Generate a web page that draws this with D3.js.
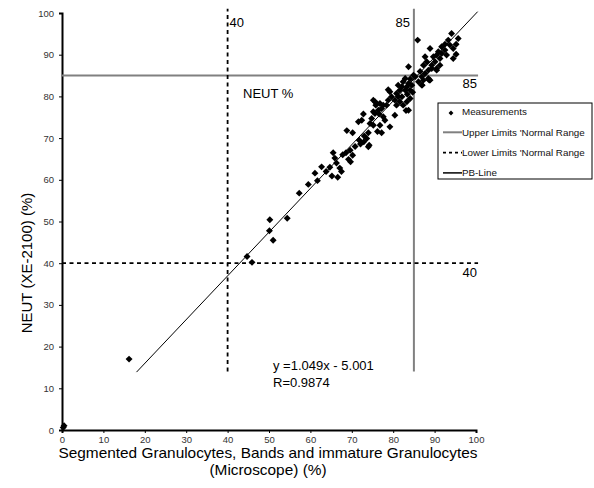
<!DOCTYPE html>
<head>
<meta charset="utf-8">
<style>
body { margin: 0; background: #fff; }
svg { display: block; }
text { font-family: "Liberation Sans", Arial, sans-serif; fill: #000; }
.tick text { font-size: 9.5px; fill: #333; }
.tick line { stroke: #000; }
.domain { stroke: #000; stroke-width: 2px; }
</style>
</head>
<body>
<script src="https://cdnjs.cloudflare.com/ajax/libs/d3/7.8.5/d3.min.js"></script>
<script>
// values
var xTicks = [0, 10, 20, 30, 40, 50, 60, 70, 80, 90, 100];
var yTicks = [0, 10, 20, 30, 40, 50, 60, 70, 80, 90, 100];

// Microscope (x) vs XE-2100 (y)
var microscope = [0.3, 0.5, 16.2, 44.7, 45.9, 50.1, 50.2, 51.0, 54.4, 57.3, 59.5, 61.1, 61.7, 62.7, 64.7,
  65.2, 66.6, 65.5, 65.9, 66.3, 67.1, 67.5, 68.6, 69.2, 69.7, 70.2, 69.6, 68.8, 70.2, 71.8,
  72.1, 72.9, 73.6, 74.2, 74.0, 71.6, 72.4, 72.8, 74.4, 75.2, 74.8, 75.6, 76.2, 77.2, 76.8,
  75.2, 76.0, 77.2, 77.6, 78.4, 78.8, 80.4, 80.8, 79.2, 78.0, 79.2, 83.1, 74.0, 76.6, 75.8,
  78.8, 81.2, 85.9, 94.1, 95.7, 93.3, 93.7, 92.5, 91.7, 95.2, 94.5, 88.9, 90.9, 91.7, 90.5,
  91.3, 92.9, 92.5, 95.2, 94.5, 89.7, 87.7, 88.1, 90.1, 89.3, 90.5, 87.3, 91.3, 88.5, 83.7,
  87.7, 86.9, 86.5, 88.5, 87.3, 86.1, 87.0, 88.9, 85.3, 84.9, 84.1, 82.9, 82.4, 83.7, 84.5,
  83.3, 82.1, 81.6, 82.9, 84.1, 84.7, 83.4, 81.2, 80.8, 82.1, 84.1, 83.3, 82.4, 79.6, 80.4,
  81.6, 77.6, 76.8, 75.6, 83.7, 76.4, 75.2, 89.3, 90.5, 88.7, 86.9, 73.0, 70.8, 67.8, 63.8];
var xe2100 = [0.6, 1.0, 17.0, 41.6, 40.2, 47.8, 50.4, 45.5, 50.8, 56.8, 58.9, 61.6, 59.8, 63.1, 63.0,
  60.9, 60.6, 66.5, 65.2, 64.0, 62.8, 62.0, 66.5, 64.9, 64.3, 65.9, 67.1, 71.8, 71.3, 69.5,
  68.6, 69.1, 69.9, 68.3, 71.3, 73.9, 74.3, 75.8, 73.5, 73.1, 74.7, 75.9, 71.6, 71.3, 73.1,
  79.1, 78.3, 77.1, 75.1, 77.9, 79.1, 75.5, 77.9, 81.1, 74.3, 72.7, 76.6, 67.9, 75.8, 77.9,
  81.6, 79.9, 93.5, 95.1, 93.9, 93.5, 92.3, 92.5, 91.9, 92.5, 91.5, 91.5, 90.7, 90.3, 89.9,
  89.1, 89.9, 91.1, 90.1, 89.1, 89.5, 89.5, 88.3, 88.3, 87.5, 86.7, 87.5, 87.5, 86.3, 87.1,
  85.5, 84.7, 86.0, 84.3, 83.9, 83.5, 82.7, 83.9, 84.7, 85.1, 84.2, 84.3, 83.5, 83.1, 82.7,
  82.3, 82.3, 81.5, 81.5, 81.5, 81.0, 80.5, 82.7, 80.7, 79.9, 79.5, 78.7, 77.9, 79.9, 79.1,
  78.7, 77.9, 78.3, 78.7, 76.7, 76.7, 76.3, 86.7, 86.3, 83.9, 82.7, 70.5, 68.0, 66.0, 62.0];

var fitSlope = 1.049, fitIntercept = -5.001, fitR = 0.9874;
var fitRange = [18, 100.4];
var upperLimit = 85, lowerLimit = 40;
var limitSpan = [14, 101];   // vertical extent of the limit lines
var limitReach = 100.5;      // horizontal extent

var legendLabels = ["Measurements", "Upper Limits 'Normal Range", "Lower Limits 'Normal Range", "PB-Line"];

var width = 594, height = 488;
var svg = d3.select("body").append("svg")
    .attr("width", width)
    .attr("height", height);

var x = d3.scaleLinear().domain([0, 100]).range([62, 476]);
var y = d3.scaleLinear().domain([0, 100]).range([430, 13]);

// axes
svg.append("g")
    .attr("transform", "translate(0," + y(0) + ")")
    .call(d3.axisBottom(x).tickValues(xTicks).tickSize(3).tickPadding(3));

svg.append("g")
    .attr("transform", "translate(" + x(0) + ",0)")
    .call(d3.axisLeft(y).tickValues(yTicks).tickSize(3).tickPadding(5));

// limit lines
function vline(v) {
  return svg.append("line")
      .attr("x1", x(v)).attr("x2", x(v))
      .attr("y1", y(limitSpan[0])).attr("y2", y(limitSpan[1]));
}
function hline(v) {
  return svg.append("line")
      .attr("x1", x(0)).attr("x2", x(limitReach))
      .attr("y1", y(v)).attr("y2", y(v));
}
hline(upperLimit).style("stroke", "#808080").style("stroke-width", 2);
vline(upperLimit).style("stroke", "#808080").style("stroke-width", 2);
hline(lowerLimit).style("stroke", "#000").style("stroke-width", 1.8).style("stroke-dasharray", "4,3.5");
vline(lowerLimit).style("stroke", "#000").style("stroke-width", 1.8).style("stroke-dasharray", "4,3.5");

// fitted line
var fit = d3.line()
    .x(function(d) { return x(d); })
    .y(function(d) { return y(fitSlope * d + fitIntercept); });
svg.append("path")
    .attr("d", fit(fitRange))
    .style("fill", "none")
    .style("stroke", "#000")
    .style("stroke-width", 1);

// points
var diamond = d3.symbol().type(d3.symbolSquare).size(24);
svg.append("g").selectAll("path")
    .data(microscope)
  .enter().append("path")
    .attr("d", diamond)
    .attr("transform", function(d, i) {
      return "translate(" + x(d) + "," + y(xe2100[i]) + ") rotate(45)";
    })
    .style("fill", "#000");

// labels in plot
svg.append("text").attr("x", x(lowerLimit) + 2).attr("y", 27)
    .style("font-size", "13px").text(lowerLimit);
svg.append("text").attr("x", x(upperLimit) - 4).attr("y", 27)
    .style("font-size", "13px").style("text-anchor", "end").text(upperLimit);
svg.append("text").attr("x", 477).attr("y", 88)
    .style("font-size", "13px").style("text-anchor", "end").text(upperLimit);
svg.append("text").attr("x", 477).attr("y", 277)
    .style("font-size", "13px").style("text-anchor", "end").text(lowerLimit);
svg.append("text").attr("x", 243).attr("y", 98)
    .style("font-size", "13px").text("NEUT %");
svg.append("text").attr("x", 273).attr("y", 370)
    .style("font-size", "13px").text("y =" + fitSlope + "x - " + (-fitIntercept).toFixed(3));
svg.append("text").attr("x", 273).attr("y", 387)
    .style("font-size", "13px").text("R=" + fitR);

// axis titles (slightly wide lettering, as in the original)
var xTitle = svg.append("g").attr("transform", "translate(268,0) scale(1.1,1)");
xTitle.append("text")
    .attr("x", 0).attr("y", 458)
    .style("font-size", "14px").style("text-anchor", "middle")
    .text("Segmented Granulocytes, Bands and immature Granulocytes");
xTitle.append("text")
    .attr("x", 0).attr("y", 475)
    .style("font-size", "14px").style("text-anchor", "middle")
    .text("(Microscope) (%)");
svg.append("text")
    .attr("transform", "translate(27,263) rotate(-90)")
    .attr("dy", "0.35em")
    .style("font-size", "15px").style("text-anchor", "middle")
    .text("NEUT (XE-2100) (%)");

// legend
var legend = svg.append("g").attr("transform", "translate(438,103)");
legend.append("rect")
    .attr("width", 154).attr("height", 76)
    .style("fill", "#fff").style("stroke", "#000").style("stroke-width", 1);

legendLabels.forEach(function(label, i) {
  var ly = 9 + i * 20.3;
  if (i === 0) {
    legend.append("path").attr("d", d3.symbol().type(d3.symbolSquare).size(12))
        .attr("transform", "translate(13," + (ly + 1) + ") rotate(45)")
        .style("fill", "#000");
  } else {
    var ln = legend.append("line")
        .attr("x1", 5).attr("x2", 24).attr("y1", ly).attr("y2", ly);
    if (i === 1) ln.style("stroke", "#808080").style("stroke-width", 2);
    if (i === 2) ln.style("stroke", "#000").style("stroke-width", 1.8).style("stroke-dasharray", "3,3");
    if (i === 3) ln.style("stroke", "#000").style("stroke-width", 1.5);
  }
  legend.append("text")
      .attr("x", 24).attr("y", ly).attr("dy", "0.35em")
      .style("font-size", "9.8px").style("fill", "#111")
      .text(label);
});
</script>
</body>
